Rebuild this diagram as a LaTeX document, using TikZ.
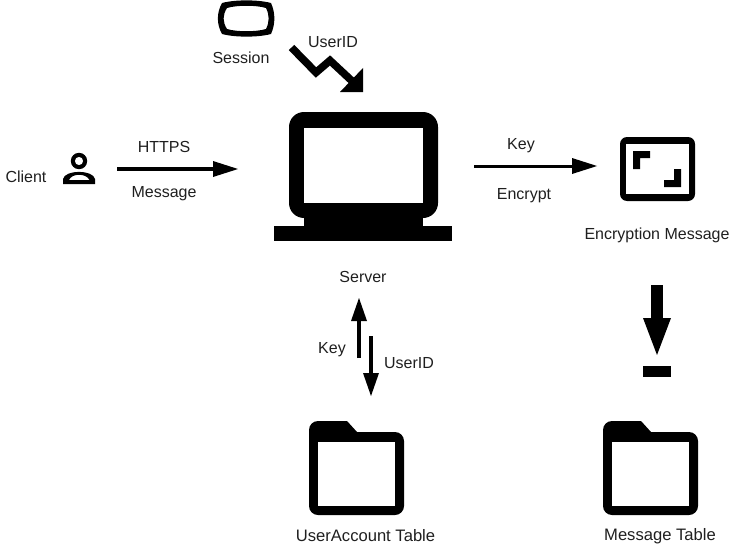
\documentclass[tikz,border=0pt]{standalone}
\usepackage{fontspec}
\setmainfont{Liberation Sans}
\tikzset{
  lbl/.style={inner sep=0pt,font=\fontsize{16}{18}\selectfont,text=black!88},
  lblwide/.style={inner sep=0pt,font=\fontsize{16.6}{18}\selectfont,text=black!88},
}
\newcommand{\folderat}[2]{%
  \begin{scope}[shift={(#1,#2)}]
    \fill[rounded corners=9pt] (0,11) rectangle (95,94);
    \fill (0,20) -- (0,9) .. controls (0,4) and (4,0) .. (9,0) -- (38,0) -- (48,11) -- (48,20) -- cycle;
    \fill[white] (9,21) rectangle (86,85);
  \end{scope}
}
\begin{document}
\begin{tikzpicture}[x=1pt,y=-1pt]
\useasboundingbox (0,0) rectangle (736,551);
% session
\fill[black,even odd rule]
  (222,3) .. controls (235,-0.5) and (258,-0.5) .. (271,3)
  .. controls (275.5,13) and (275.5,24) .. (271,34)
  .. controls (258,37.5) and (235,37.5) .. (222,34)
  .. controls (216.5,24) and (216.5,13) .. (222,3) -- cycle
  (227,8) .. controls (237,5) and (256,5) .. (266,8)
  .. controls (269.5,15) and (269.5,22) .. (266,29)
  .. controls (256,32) and (237,32) .. (227,29)
  .. controls (222.5,22) and (222.5,15) .. (227,8) -- cycle;
\node[lbl] (session) at (241,58) {Session};
\node[lbl] (useridtop) at (333,42) {UserID};
% lightning arrow
\coordinate (zz0) at (291.5,47.5);
\coordinate (zz1) at (316,72.5);
\coordinate (zz2) at (330,60.5);
\coordinate (zz3) at (352,81);
\draw[line width=7.6pt,miter limit=10] (zz0) -- (zz1) -- (zz2) -- (zz3);
\fill (363,68) -- (363,92) -- (340,92) -- cycle;
% client
\node[lbl] (client) at (26,177) {Client};
\fill[black,even odd rule]
  (79,161) circle[radius=8.2] (79,161) circle[radius=4.2];
\fill[black,even odd rule]
  (63,184) -- (63,179) .. controls (65,169.5) and (93,169.5) .. (95,179) -- (95,184) -- cycle
  (69,180) .. controls (72,173) and (86,173) .. (89.5,180) -- cycle;
% https arrow
\coordinate (a1s) at (117,169);
\coordinate (a1e) at (238,169);
\draw[line width=3.6pt] (a1s) -- (226,169);
\fill (a1e) -- (213,161) -- (213,177) -- cycle;
\node[lbl] (https) at (164,147) {HTTPS};
\node[lbl] (msg) at (164,194) {Message};
% server
\fill[rounded corners=15pt] (289,112) rectangle (438,218);
\fill (304,205) rectangle (423,226);
\fill (274,226) rectangle (452,241);
\fill[white] (304,128) rectangle (423,203);
\node[lbl] (server) at (363,277) {Server};
% key arrow
\coordinate (a2s) at (474,166);
\coordinate (a2e) at (597,166);
\draw[line width=3pt] (a2s) -- (585,166);
\fill (a2e) -- (572,158) -- (572,174) -- cycle;
\node[lbl] (keyr) at (521,146) {Key};
\node[lbl] (enc) at (524,196) {Encrypt};
% encryption icon
\fill[rounded corners=7pt] (620,137) rectangle (695,201);
\fill[white] (626,144) rectangle (689,194);
\fill (633,151) -- (650,151) -- (650,158) -- (640,158) -- (640,169) -- (633,169) -- cycle;
\fill (681,187) -- (664,187) -- (664,180) -- (674,180) -- (674,169) -- (681,169) -- cycle;
\node[lbl] (encm) at (657,235) {Encryption Message};
% up/down
\coordinate (a3s) at (359,358);
\coordinate (a3e) at (359,298);
\draw[line width=4pt] (a3s) -- (359,315);
\fill (a3e) -- (351,321) -- (367,321) -- cycle;
\coordinate (a4s) at (371,336);
\coordinate (a4e) at (371,396);
\draw[line width=4pt] (a4s) -- (371,380);
\fill (a4e) -- (363,373) -- (379,373) -- cycle;
\node[lbl] (keyd) at (332,350) {Key};
\node[lbl] (useridd) at (409,363) {UserID};
% insert arrow
\coordinate (a5s) at (657,285);
\coordinate (a5e) at (657,355);
\draw[line width=12pt] (a5s) -- (657,325);
\fill (a5e) -- (643,318) -- (671,318) -- cycle;
\fill (643,366) rectangle (671,377);
% folders
\folderat{309}{421}
\folderat{603}{421}
\node[lblwide] (uat) at (365.5,536) {UserAccount Table};
\node[lblwide] (mt) at (660,536) {Message Table};
\end{tikzpicture}
\end{document}
